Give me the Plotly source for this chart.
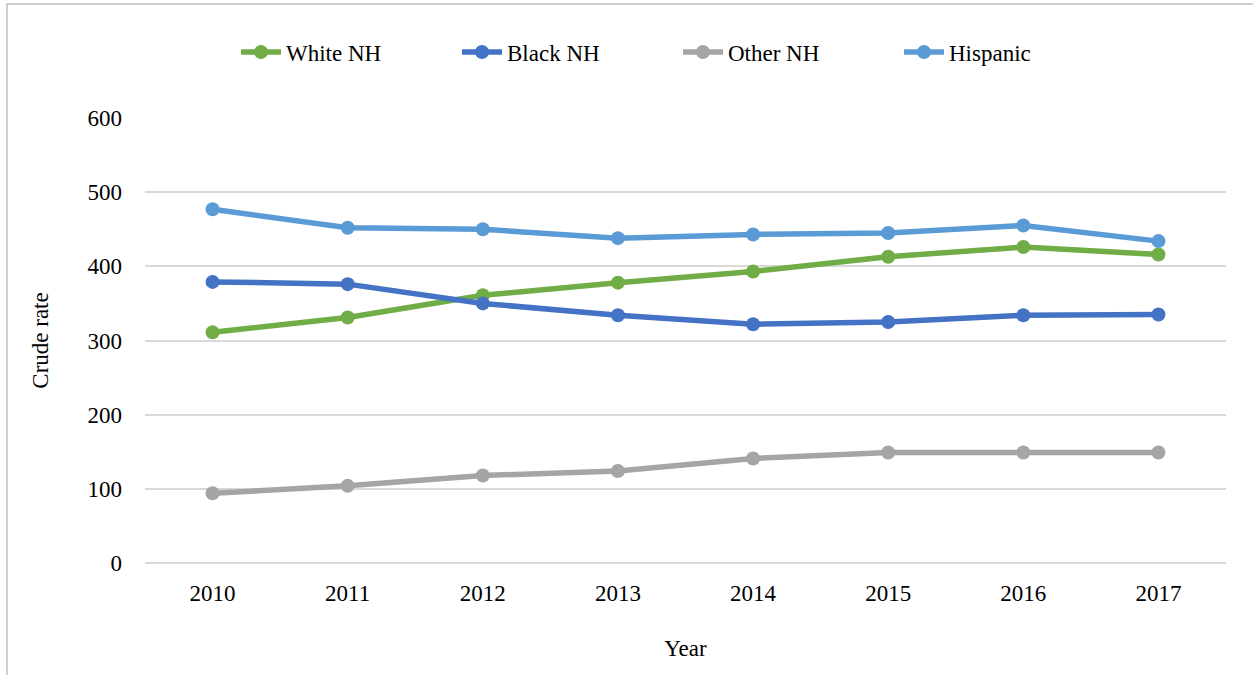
import plotly.graph_objects as go

years = ["2010", "2011", "2012", "2013", "2014", "2015", "2016", "2017"]
white_nh = [311, 331, 361, 378, 393, 413, 426, 416]
black_nh = [379, 376, 350, 334, 322, 325, 334, 335]
other_nh = [94, 104, 118, 124, 141, 149, 149, 149]
hispanic = [477, 452, 450, 438, 443, 445, 455, 434]

series = [
    ("White NH", white_nh, "#70AD47"),
    ("Black NH", black_nh, "#4472C4"),
    ("Other NH", other_nh, "#A5A5A5"),
    ("Hispanic", hispanic, "#5B9BD5"),
]

fig = go.Figure()
for name, vals, col in series:
    fig.add_trace(go.Scatter(
        x=years, y=vals, name=name, mode="lines+markers",
        line=dict(color=col, width=5.5),
        marker=dict(color=col, size=14),
    ))

font = "Liberation Serif, Times New Roman, serif"
FS = 23
L, R, T, B = 145, 27, 118, 112
W, H = 1253, 675
pw, ph = W - L - R, H - T - B

fig.update_layout(
    width=W, height=H,
    margin=dict(l=L, r=R, t=T, b=B),
    paper_bgcolor="white", plot_bgcolor="white",
    font=dict(family=font, size=FS, color="black"),
    showlegend=True,
    legend=dict(orientation="h", x=(236 - L) / pw, xanchor="left",
                y=(H - B - 52) / ph, yanchor="middle",
                entrywidth=166, entrywidthmode="pixels",
                font=dict(family=font, size=FS), itemwidth=40,
                bgcolor="rgba(0,0,0,0)"),
    xaxis=dict(type="category", range=[-0.5, 7.5], showgrid=False,
               showline=False, ticks="", ticklabelstandoff=14,
               title=dict(text="Year", standoff=34, font=dict(size=FS))),
    yaxis=dict(range=[0, 600], dtick=100, showgrid=True, gridcolor="#D9D9D9",
               gridwidth=1.5, zeroline=True, zerolinecolor="#D9D9D9", zerolinewidth=1.5,
               showline=False, ticks="", ticklabelstandoff=22,
               title=dict(text="Crude rate", standoff=32, font=dict(size=FS))),
    shapes=[dict(type="rect", xref="paper", yref="paper",
                 x0=(7 - L) / pw, x1=1.2, y0=-0.5, y1=(H - B - 4) / ph,
                 line=dict(color="#BFBFBF", width=1.5), fillcolor="rgba(0,0,0,0)",
                 layer="below")],
)

fig.write_html("out.html", config={"displayModeBar": False},
               post_script="document.body.style.margin='0';")
